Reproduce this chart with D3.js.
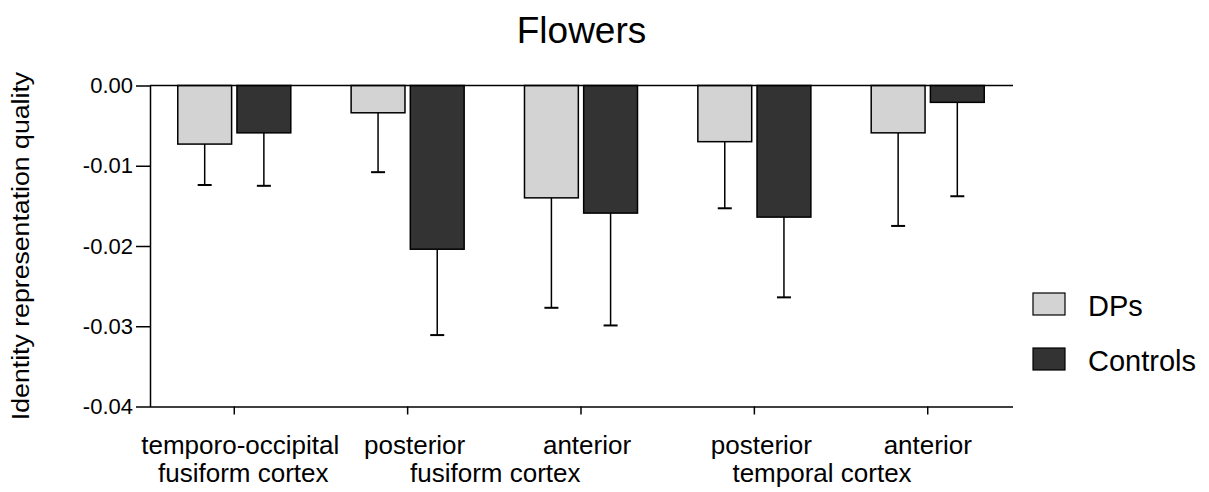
<!DOCTYPE html>
<html>
<head>
<meta charset="utf-8">
<script src="https://cdn.jsdelivr.net/npm/d3@7"></script>
<style>
  html, body { margin: 0; padding: 0; background: #fff; }
  svg { display: block; font-family: "Liberation Sans", Arial, Helvetica, sans-serif; }
</style>
</head>
<body>
<svg id="chart" width="1209" height="492"></svg>
<script>
// Regions of interest (one bar group each)
const regions = ["TOFC", "pFC", "aFC", "pTC", "aTC"];
const series = ["DPs", "Controls"];

// Mean identity representation quality per region
const dpsMean      = [-0.0073, -0.0034, -0.0140, -0.0070, -0.0059];
const controlsMean = [-0.0059, -0.0204, -0.0159, -0.0164, -0.0021];

// Error-bar lengths (drawn downward from the bar end)
const dpsErr       = [0.0051, 0.0074, 0.0137, 0.0083, 0.0116];
const controlsErr  = [0.0066, 0.0107, 0.0140, 0.0100, 0.0117];

// Axis labels
const yTicks = [0, -0.01, -0.02, -0.03, -0.04];
const topLabels = ["temporo-occipital", "posterior", "anterior", "posterior", "anterior"];
const bottomLabels = [
  { text: "fusiform cortex", from: 0, to: 0 },
  { text: "fusiform cortex", from: 1, to: 2 },
  { text: "temporal cortex", from: 3, to: 4 }
];

const fills = { DPs: "#d3d3d3", Controls: "#333333" };
const means = { DPs: dpsMean, Controls: controlsMean };
const errs  = { DPs: dpsErr, Controls: controlsErr };

const rows = regions.map((r, i) => ({
  region: r,
  values: series.map(s => ({ key: s, mean: means[s][i], err: errs[s][i] }))
}));

const svg = d3.select("#chart");
const plotLeft = 150, plotRight = 1013, plotTop = 85.5, plotBottom = 406.5;

const x0 = d3.scaleBand()
  .domain(regions)
  .range([147.6, 1014.4])
  .paddingInner(0.348)
  .paddingOuter(0.174);

const x1 = d3.scaleBand()
  .domain(series)
  .range([0, x0.bandwidth()])
  .paddingInner(0.09);

const y = d3.scaleLinear()
  .domain([-0.04, 0])
  .range([plotBottom, plotTop]);

// Tick format with a plain hyphen for negatives
const fmt = d => d3.format(".2f")(d).replace("\u2212", "-");

// Title
svg.append("text")
  .attr("x", (plotLeft + plotRight) / 2)
  .attr("y", 43)
  .attr("text-anchor", "middle")
  .attr("font-size", 37)
  .attr("fill", "#000")
  .text("Flowers");

// Y axis label (slightly widened glyphs)
svg.append("text")
  .attr("transform", `translate(29, ${(plotTop + plotBottom) / 2}) rotate(-90) scale(1.16, 1)`)
  .attr("text-anchor", "middle")
  .attr("font-size", 23)
  .attr("fill", "#000")
  .text("Identity representation quality");

// Bars and error bars
const groups = svg.append("g").selectAll("g")
  .data(rows)
  .join("g")
  .attr("transform", d => `translate(${x0(d.region)},0)`);

groups.selectAll("line.err")
  .data(d => d.values)
  .join("line")
  .attr("class", "err")
  .attr("x1", d => x1(d.key) + x1.bandwidth() / 2)
  .attr("x2", d => x1(d.key) + x1.bandwidth() / 2)
  .attr("y1", d => y(d.mean))
  .attr("y2", d => y(d.mean - d.err))
  .attr("stroke", "#000")
  .attr("stroke-width", 1.5);

groups.selectAll("line.cap")
  .data(d => d.values)
  .join("line")
  .attr("class", "cap")
  .attr("x1", d => x1(d.key) + x1.bandwidth() / 2 - 7)
  .attr("x2", d => x1(d.key) + x1.bandwidth() / 2 + 7)
  .attr("y1", d => y(d.mean - d.err))
  .attr("y2", d => y(d.mean - d.err))
  .attr("stroke", "#000")
  .attr("stroke-width", 2);

groups.selectAll("rect")
  .data(d => d.values)
  .join("rect")
  .attr("x", d => x1(d.key))
  .attr("width", x1.bandwidth())
  .attr("y", y(0))
  .attr("height", d => y(d.mean) - y(0))
  .attr("fill", d => fills[d.key])
  .attr("stroke", "#000")
  .attr("stroke-width", 1.5);

// Y axis
const yAxis = svg.append("g")
  .attr("transform", `translate(${plotLeft},0)`)
  .call(d3.axisLeft(y).tickValues(yTicks).tickFormat(fmt).tickSize(14).tickPadding(3).tickSizeOuter(0));
yAxis.select(".domain").attr("stroke", "#000").attr("stroke-width", 1.5);
yAxis.selectAll(".tick line").attr("stroke", "#000").attr("stroke-width", 1.5);
yAxis.selectAll(".tick text")
  .attr("font-size", 22)
  .attr("font-family", "'Liberation Sans', Arial, sans-serif")
  .attr("fill", "#000");

// Zero line across the top
svg.append("line")
  .attr("x1", plotLeft).attr("x2", plotRight)
  .attr("y1", y(0)).attr("y2", y(0))
  .attr("stroke", "#000").attr("stroke-width", 1.5);

// X axis
const xAxis = svg.append("g")
  .attr("transform", `translate(0,${plotBottom})`)
  .call(d3.axisBottom(x0).tickSize(8).tickSizeOuter(0).tickFormat(""));
xAxis.select(".domain").attr("d", `M${plotLeft},0.5H${plotRight}`).attr("stroke", "#000").attr("stroke-width", 1.5);
xAxis.selectAll(".tick line").attr("stroke", "#000").attr("stroke-width", 1.5);

// Category labels, two rows
const center = r => x0(r) + x0.bandwidth() / 2;
const topShift = [6, 7, 6, 7, 0];
svg.append("g").selectAll("text")
  .data(topLabels)
  .join("text")
  .attr("x", (d, i) => center(regions[i]) + topShift[i])
  .attr("y", 454)
  .attr("text-anchor", "middle")
  .attr("font-size", 26)
  .attr("fill", "#000")
  .text(d => d);

const bottomShift = [9, 1, -19];
svg.append("g").selectAll("text")
  .data(bottomLabels)
  .join("text")
  .attr("x", (d, i) => (center(regions[d.from]) + center(regions[d.to])) / 2 + bottomShift[i])
  .attr("y", 482)
  .attr("text-anchor", "middle")
  .attr("font-size", 26)
  .attr("fill", "#000")
  .text(d => d.text);

// Legend
const legend = svg.append("g").selectAll("g")
  .data(series)
  .join("g")
  .attr("transform", (d, i) => `translate(1033, ${293 + i * 55})`);
legend.append("rect")
  .attr("width", 32).attr("height", 22)
  .attr("fill", d => fills[d])
  .attr("stroke", "#000").attr("stroke-width", 1.2);
legend.append("text")
  .attr("x", 55).attr("y", 23)
  .attr("font-size", 29)
  .attr("fill", "#000")
  .text(d => d);
</script>
</body>
</html>
